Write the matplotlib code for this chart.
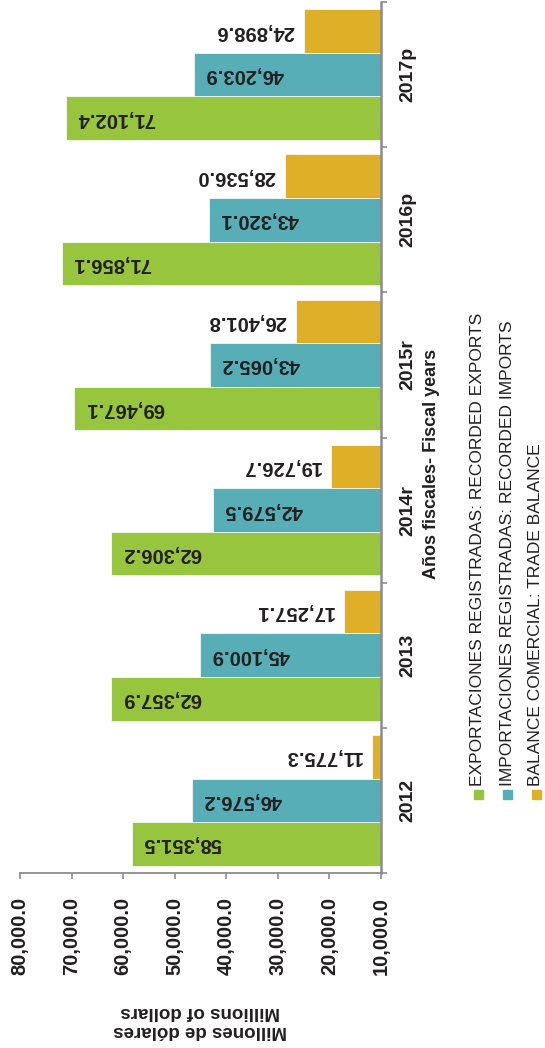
import numpy as np
import matplotlib
matplotlib.use('Agg')
import matplotlib.pyplot as plt
from matplotlib.patches import Rectangle

plt.rcParams['font.family'] = ['Liberation Sans', 'DejaVu Sans']

years = ['2012', '2013', '2014r', '2015r', '2016p', '2017p']
exports = [58351.5, 62357.9, 62306.2, 69467.1, 71856.1, 71102.4]
imports = [46576.2, 45100.9, 42579.5, 43065.2, 43320.1, 46203.9]
balance = [11775.3, 17257.1, 19726.7, 26401.8, 28536.0, 24898.6]
value_ticks = [10000, 20000, 30000, 40000, 50000, 60000, 70000, 80000]
legend_labels = ['EXPORTACIONES REGISTRADAS: RECORDED EXPORTS',
                 'IMPORTACIONES REGISTRADAS: RECORDED IMPORTS',
                 'BALANCE COMERCIAL: TRADE BALANCE']

GREEN, TEAL, GOLD = '#97C53E', '#57AEB7', '#DEAF27'
GREY = '#8C8C8C'

W, H = 545, 1048
fig = plt.figure(figsize=(W / 100, H / 100), dpi=100)
ax = fig.add_axes([20 / W, 175 / H, 361 / W, 871 / H])

y = np.arange(len(years))
h = 0.3
series = [(exports, GREEN, -h, 'in'), (imports, TEAL, 0, 'in'), (balance, GOLD, h, 'out')]
for vals, col, off, where in series:
    ax.barh(y + off, vals, height=h, color=col, edgecolor='white', linewidth=0.5)
    for yi, v in zip(y, vals):
        if where == 'in':
            ax.annotate('{:,.1f}'.format(v), xy=(v, yi + off), xytext=(8, 0),
                        textcoords='offset points', rotation=180, ha='left',
                        va='center', fontsize=14.5, fontweight='bold', color='#231F20')
        else:
            ax.annotate('{:,.1f}'.format(v), xy=(v, yi + off), xytext=(-7, 0),
                        textcoords='offset points', rotation=180, ha='right',
                        va='center', fontsize=14.5, fontweight='bold', color='#231F20')

ax.set_xlim(80000, 10000)
ax.set_ylim(-0.5, len(years) - 0.5)

ax.set_xticks(value_ticks)
ax.set_xticklabels(['{:,.1f}'.format(t) for t in value_ticks], rotation=90,
                   fontsize=14.5, fontweight='bold', color='#231F20')
ax.tick_params(axis='x', direction='out', length=4, width=1.2, color=GREY, pad=13)

ax.yaxis.tick_right()
ax.set_yticks(y)
ax.set_yticklabels(years, fontsize=14, fontweight='bold', color='#231F20')
ax.set_yticks(np.arange(-0.5, len(years)), minor=True)
ax.tick_params(axis='y', which='major', length=0, pad=13, labelrotation=90)
ax.tick_params(axis='y', which='minor', direction='out', length=4, width=1.2, color=GREY)
for lab in ax.get_yticklabels():
    lab.set_va('center')

for s in ['left', 'top']:
    ax.spines[s].set_visible(False)
ax.spines['right'].set_color(GREY)
ax.spines['right'].set_linewidth(1.8)
ax.spines['bottom'].set_color(GREY)
ax.spines['bottom'].set_linewidth(1.3)

fig.text(200 / W, 1 - 1021 / H, 'Millones de dólares\nMillions of dollars',
         rotation=180, ha='center', va='center', fontsize=13.5, fontweight='bold',
         linespacing=1.1, color='#231F20')
fig.text(431 / W, 1 - 464 / H, 'Años fiscales- Fiscal years', rotation=90,
         ha='center', va='center', fontsize=13, fontweight='bold', color='#231F20')

for i, (lab, col) in enumerate(zip(legend_labels, [GREEN, TEAL, GOLD])):
    cx = (478 + 29 * i) / W
    fig.add_artist(Rectangle((cx - 4.5 / W, 1 - 799 / H), 9 / W, 9 / H,
                             transform=fig.transFigure, color=col))
    fig.text(cx, 1 - 786 / H, lab, rotation=90, ha='center', va='bottom',
             fontsize=12.5, color='#231F20')

fig.savefig('out.png', dpi=100)
